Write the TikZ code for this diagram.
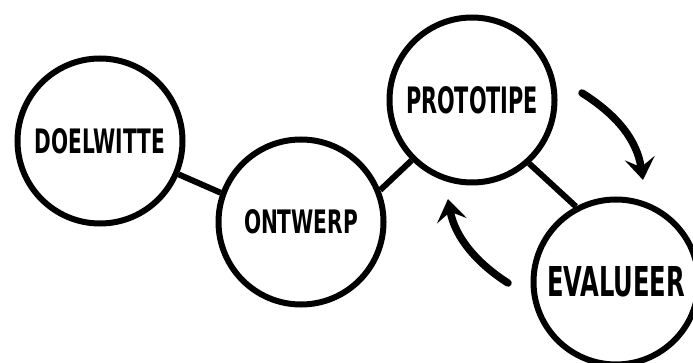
\documentclass[tikz,border=0pt]{standalone}
\usepackage{fontspec}
\setmainfont{DejaVu Sans Condensed}
\usetikzlibrary{arrows.meta}
\tikzset{
  phase/.style={circle, draw=black, line width=6pt, fill=white,
    minimum size=165pt, inner sep=0pt},
  link/.style={line width=6pt, draw=black},
  cycle arrow/.style={line width=7.5pt, line cap=round,
    -{Stealth[length=22pt 0, width=30pt 0, inset=9pt 0]}},
}
\newcommand{\phaselabel}[3]{\resizebox{#1}{#2}{\bfseries #3}}
\begin{document}
\begin{tikzpicture}[x=1pt, y=-1pt]
  \useasboundingbox (0,0) rectangle (693,363);
  \clip (0,0) rectangle (693,363);

  % the four phases of the cycle
  \node[phase] (doel)  at (100,141) {\phaselabel{130pt}{25pt}{DOELWITTE}};
  \node[phase] (ontw)  at (301,222) {\phaselabel{114pt}{24pt}{ONTWERP}};
  \node[phase] (proto) at (472,100) {\phaselabel{132pt}{27pt}{PROTOTIPE}};
  \node[phase] (eval)  at (616,282) {\phaselabel{138pt}{30pt}{EVALUEER}};

  % straight links between neighbouring phases
  \draw[link] (doel.-23) -- (ontw.160);
  \draw[link] (ontw.22) -- (proto.225);
  \draw[link] (proto.-48) -- (eval.118);

  % iteration arrows between prototype and evaluation
  \coordinate (a1s) at (582,93);
  \coordinate (a1e) at (643,180);
  \coordinate (a2s) at (508,283);
  \coordinate (a2e) at (448,199);
  \draw[cycle arrow] (a1s) .. controls (617,115) and (637,140) .. (a1e);
  \draw[cycle arrow] (a2s) .. controls (478,264) and (455,238) .. (a2e);
\end{tikzpicture}
\end{document}
